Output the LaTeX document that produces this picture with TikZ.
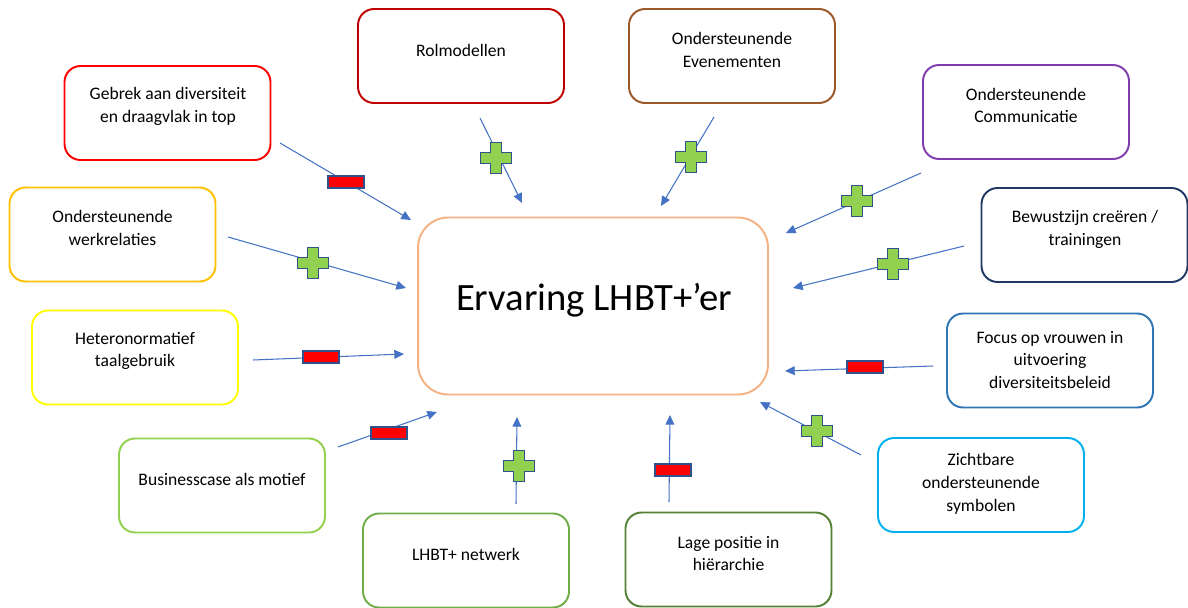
\documentclass[tikz,border=0pt]{standalone}
\usepackage{fontspec}
\setmainfont{Carlito}
\usetikzlibrary{arrows.meta}
\definecolor{cRed}{RGB}{255,0,0}
\definecolor{cDarkRed}{RGB}{192,0,0}
\definecolor{cBrown}{RGB}{156,87,40}
\definecolor{cPurple}{RGB}{128,60,175}
\definecolor{cNavy}{RGB}{31,56,100}
\definecolor{cGold}{RGB}{255,192,0}
\definecolor{cYellow}{RGB}{255,255,0}
\definecolor{cLightGreen}{RGB}{146,208,80}
\definecolor{cGreen}{RGB}{112,173,71}
\definecolor{cDarkGreen}{RGB}{84,130,53}
\definecolor{cBlue}{RGB}{46,117,182}
\definecolor{cSky}{RGB}{0,176,240}
\definecolor{cPeach}{RGB}{244,177,131}
\definecolor{arrowblue}{RGB}{68,114,196}
\definecolor{markblue}{RGB}{47,82,143}
\definecolor{plusgreen}{RGB}{146,208,80}
\begin{document}
\begin{tikzpicture}[x=0.02cm,y=-0.02cm,
  box/.style={draw, line width=1.1pt, rounded corners=0.32cm, minimum width=4.12cm, minimum height=1.88cm, inner sep=0pt},
  txt/.style={align=center, inner sep=0pt, font=\fontsize{10}{13}\selectfont},
  arr/.style={draw=arrowblue, line width=0.6pt, -{Triangle[length=5.5pt,width=5pt]}},
  minusmark/.style={draw=markblue, fill=red, line width=0.9pt, minimum width=0.72cm, minimum height=0.24cm, inner sep=0pt},
  plusmark/.pic={\path[draw=markblue, fill=plusgreen, line width=0.9pt]
    (-5.3,-15.5) -- (5.3,-15.5) -- (5.3,-5.3) -- (15.5,-5.3) -- (15.5,5.3) -- (5.3,5.3)
    -- (5.3,15.5) -- (-5.3,15.5) -- (-5.3,5.3) -- (-15.5,5.3) -- (-15.5,-5.3) -- (-5.3,-5.3) -- cycle;}
]
\useasboundingbox (0,0) rectangle (1188,608);

% central box
\node (center) [draw=cPeach, line width=1.1pt, rounded corners=0.6cm, minimum width=7cm, minimum height=3.54cm, inner sep=0pt] at (593,306) {};
\node (ctext) [inner sep=0pt, font=\fontsize{22}{26}\selectfont] at (594,300) {Ervaring LHBT+’er};

% outer boxes
\node (bGebrek) [box, draw=cRed] at (167.5,113) {};
\node (tGebrek) [txt] at (168,106.5) {Gebrek aan diversiteit\\en draagvlak in top};

\node (bRol) [box, draw=cDarkRed] at (461,56) {};
\node (tRol) [txt] at (461,50) {Rolmodellen};

\node (bEven) [box, draw=cBrown] at (732,56) {};
\node (tEven) [txt] at (732,50) {Ondersteunende\\Evenementen};

\node (bComm) [box, draw=cPurple] at (1026,112) {};
\node (tComm) [txt] at (1026,105.5) {Ondersteunende\\Communicatie};

\node (bBew) [box, draw=cNavy] at (1084.5,235) {};
\node (tBew) [txt] at (1085,229) {Bewustzijn creëren /\\trainingen};

\node (bWerk) [box, draw=cGold] at (112.5,234.5) {};
\node (tWerk) [txt] at (112.5,228) {Ondersteunende\\werkrelaties};

\node (bHetero) [box, draw=cYellow] at (135,357.5) {};
\node (tHetero) [txt] at (135,351) {Heteronormatief\\taalgebruik};

\node (bFocus) [box, draw=cBlue] at (1050,360.5) {};
\node (tFocus) [txt] at (1050,360) {Focus op vrouwen in\\uitvoering\\diversiteitsbeleid};

\node (bBus) [box, draw=cLightGreen] at (222,485.5) {};
\node (tBus) [txt] at (222,479) {Businesscase als motief};

\node (bZicht) [box, draw=cSky] at (981,485) {};
\node (tZicht) [txt] at (981,484) {Zichtbare\\ondersteunende\\symbolen};

\node (bNet) [box, draw=cGreen] at (466,560.5) {};
\node (tNet) [txt] at (466,554) {LHBT+ netwerk};

\node (bLage) [box, draw=cDarkGreen] at (728.5,559.5) {};
\node (tLage) [txt] at (728.5,553.5) {Lage positie in\\hiërarchie};

% arrow end points
\coordinate (aG1) at (280,143);  \coordinate (aG2) at (411,220);
\coordinate (aR1) at (480,118);  \coordinate (aR2) at (522,203);
\coordinate (aE1) at (714,117);  \coordinate (aE2) at (661,206);
\coordinate (aC1) at (921,173);  \coordinate (aC2) at (786,233);
\coordinate (aB1) at (964,246);  \coordinate (aB2) at (793,288);
\coordinate (aW1) at (228,237);  \coordinate (aW2) at (406,288);
\coordinate (aH1) at (253,360);  \coordinate (aH2) at (404,354);
\coordinate (aU1) at (338,447);  \coordinate (aU2) at (437,412);
\coordinate (aN1) at (516,504);  \coordinate (aN2) at (517,417);
\coordinate (aL1) at (669,502);  \coordinate (aL2) at (670,415);
\coordinate (aF1) at (933,366);  \coordinate (aF2) at (785,371);
\coordinate (aZ1) at (861,455);  \coordinate (aZ2) at (760,402);

\draw[arr] (aG1) -- (aG2);
\draw[arr] (aR1) -- (aR2);
\draw[arr] (aE1) -- (aE2);
\draw[arr] (aC1) -- (aC2);
\draw[arr] (aB1) -- (aB2);
\draw[arr] (aW1) -- (aW2);
\draw[arr] (aH1) -- (aH2);
\draw[arr] (aU1) -- (aU2);
\draw[arr] (aN1) -- (aN2);
\draw[arr] (aL1) -- (aL2);
\draw[arr] (aF1) -- (aF2);
\draw[arr] (aZ1) -- (aZ2);

% plus marks
\pic at (496,158) {plusmark};
\pic at (691,157) {plusmark};
\pic at (857,201) {plusmark};
\pic at (893,264) {plusmark};
\pic at (313,263) {plusmark};
\pic at (519,466) {plusmark};
\pic at (817,431) {plusmark};

% minus marks
\node (mG) [minusmark] at (346,182) {};
\node (mH) [minusmark] at (321,357) {};
\node (mU) [minusmark] at (389,433) {};
\node (mF) [minusmark] at (865,367) {};
\node (mL) [minusmark] at (673,470) {};
\end{tikzpicture}
\end{document}
